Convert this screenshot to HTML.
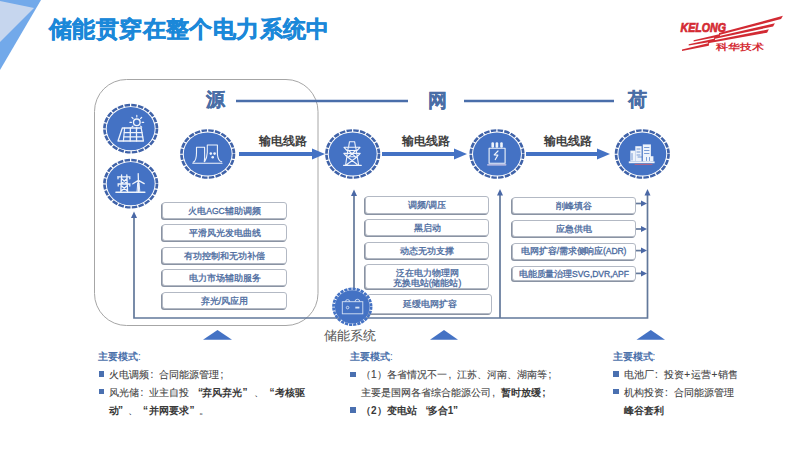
<!DOCTYPE html>
<html><head><meta charset="utf-8">
<style>
html,body{margin:0;padding:0;background:#fff;}
body{width:800px;height:450px;position:relative;overflow:hidden;font-family:"Liberation Sans",sans-serif;}
.a{position:absolute;white-space:nowrap;}
.title{font-size:23px;letter-spacing:0.4px;font-weight:bold;color:#1b88d9;-webkit-text-stroke:0.5px #1b88d9;}
.hd{font-size:19px;line-height:20px;font-weight:bold;color:#4a6ea6;-webkit-text-stroke:0.3px #4a6ea6;}
.lbl{font-size:12px;line-height:12px;font-weight:bold;color:#404040;}
.box{position:absolute;box-sizing:border-box;border:1px solid #b3b9c4;border-radius:3px;background:#fff;
  box-shadow:-1px 1px 0 #8a93a3;color:#4a6a9e;font-size:8.6px;-webkit-text-stroke:0.3px #4a6a9e;text-align:center;white-space:nowrap;}
.mt{font-size:10px;line-height:10px;font-weight:bold;color:#4a70aa;}
.tx{font-size:10px;line-height:10px;color:#424242;-webkit-text-stroke:0.1px #424242;}
.cl{display:inline-block;width:10px;text-indent:1.5px;}
.pl{display:inline-block;width:7.3px;text-align:center;}
.b{font-weight:bold;color:#383838;-webkit-text-stroke:0px #333;}
.sq{position:absolute;width:5.5px;height:5.5px;background:#4a70b0;}
</style></head>
<body>
<svg class="a" style="left:0;top:0" width="800" height="450" viewBox="0 0 800 450">
  <!-- top-left decoration -->
  <polygon points="0,0 41,0 0,70" fill="#72a9ea"/>
  <polygon points="0,1 34,8 0,42" fill="#c6d6ee"/>
  <!-- rounded rect -->
  <rect x="94.5" y="79.5" width="223.5" height="246" rx="32" ry="32" fill="none" stroke="#a6a6a6" stroke-width="1"/>
  <!-- top blue line -->
  <g stroke="#4a6eaa" stroke-width="2.6">
    <line x1="236" y1="101" x2="408" y2="101"/>
    <line x1="464" y1="101" x2="614" y2="101"/>
  </g>
  <!-- horizontal arrows -->
  <g fill="#4472c4">
    <rect x="239" y="152" width="74" height="4"/><polygon points="312,148.5 325,154 312,159.5"/>
    <rect x="382" y="152" width="73" height="4"/><polygon points="454,148.5 467,154 454,159.5"/>
    <rect x="526" y="152" width="72" height="4"/><polygon points="597,148.5 610,154 597,159.5"/>
  </g>
  <!-- bottom bus line and verticals -->
  <g stroke="#62789a" stroke-width="1.7" fill="none">
    <polyline points="134,215 134,318 647.5,318 647.5,192"/>
    <line x1="354" y1="193" x2="354" y2="290"/>
    <line x1="500" y1="192" x2="500" y2="318"/>
    <line x1="636" y1="203.5" x2="644" y2="203.5"/>
    <line x1="636" y1="229" x2="644" y2="229"/>
    <line x1="636" y1="250.6" x2="644" y2="250.6"/>
    <line x1="636" y1="273.4" x2="644" y2="273.4"/>
  </g>
  <g fill="#4a68a6">
    <polygon points="134,211.5 131,218 137,218"/>
    <polygon points="354,189.5 351,196 357,196"/>
    <polygon points="500,189 497,195.5 503,195.5"/>
    <polygon points="647.5,189 644.5,195.5 650.5,195.5"/>
    <polygon points="647,203.5 641,200.5 641,206.5"/>
    <polygon points="647,229 641,226 641,232"/>
    <polygon points="647,250.6 641,247.6 641,253.6"/>
    <polygon points="647,273.4 641,270.4 641,276.4"/>
  </g>
  <!-- triangles -->
  <g fill="#4472c4">
    <polygon points="217.5,330 203,339.7 232,339.7"/>
    <polygon points="444,330 430,339.7 458,339.7"/>
    <polygon points="650.8,330 636.5,339.7 665,339.7"/>
  </g>
  <!-- circles -->
  <defs>
    <g id="circ">
      <circle r="23.65" fill="none" stroke="#3f62a8" stroke-width="2.4" stroke-dasharray="5.0 1.18"/>
      <circle r="21.6" fill="#4472c4"/>
    </g>
  </defs>
  <use href="#circ" transform="translate(130.7,128.7) scale(1.11,1)"/>
  <use href="#circ" transform="translate(130.7,183.7) scale(1.11,1)"/>
  <use href="#circ" transform="translate(207.7,154) scale(1.11,1)"/>
  <use href="#circ" transform="translate(352.7,154) scale(1.11,1)"/>
  <use href="#circ" transform="translate(497,154) scale(1.11,1)"/>
  <use href="#circ" transform="translate(642.3,154) scale(1.11,1)"/>


  <!-- icons -->
  <g fill="none" stroke="#eef3fb" stroke-width="1.1" stroke-linejoin="round" stroke-linecap="round">
    <!-- solar -->
    <circle cx="136.8" cy="122.3" r="3.3" stroke-width="1.4"/>
    <path d="M136.8,117 v-1.6 M136.8,127.6 v1.6 M131.5,122.3 h-1.6 M142.1,122.3 h1.6 M133,118.5 l-1.1,-1.1 M140.6,118.5 l1.1,-1.1 M133,126.1 l-1.1,1.1 M140.6,126.1 l1.1,1.1" stroke-width="1.2"/>
    <polygon points="118,141 122.3,128 141.2,128 143.4,141" stroke-width="1.3"/>
    <line x1="124.6" y1="128" x2="123.4" y2="141" stroke-width="1.2"/>
    <line x1="124.3" y1="132.6" x2="142" y2="132.6" stroke-width="1.3"/>
    <line x1="124" y1="136.9" x2="142.7" y2="136.9" stroke-width="1.3"/>
    <line x1="130.4" y1="128" x2="130.2" y2="141" stroke-width="1.3"/>
    <line x1="136.4" y1="128" x2="136.6" y2="141" stroke-width="1.3"/>
    <!-- wind/grid -->
    <line x1="116" y1="192.3" x2="144.8" y2="192.3" stroke-width="1.6"/>
    <path d="M117.6,176.8 H130 M118,184 H130 M121.6,174.8 L120.8,192 M126.8,174.8 L127.6,192 M121.4,178.5 L127.2,183.8 M127.1,178.5 L121.3,183.8 M121,185.5 L127.5,191 M127.4,185.5 L121.1,191 M118,176.8 v2 M129.8,176.8 v2 M118.2,184 v2 M129.8,184 v2" stroke-width="1.3"/>
    <path d="M138.4,180.4 V192 M138.4,180.4 L138.2,173.6 M138.4,180.4 L144.2,183.6 M138.4,180.4 L132.8,183.8" stroke-width="1.3"/>
    <path d="M137,192 L137.7,183 M139.8,192 L139.1,183" stroke-width="1"/>
    <!-- nuclear -->
    <line x1="192.8" y1="163.3" x2="222" y2="163.3"/>
    <path d="M193.2,162.2 C196,161 196.5,156 196.5,152.4 V147.2 H204.6 V152 C204.6,155 205,158 204.3,161.5"/>
    <path d="M204.6,161.6 C207,158 207.2,155 207.3,152.5 V145 H217.4 V154.5 C217.8,158 219,161.3 221.7,161.8"/>
    <circle cx="210.8" cy="153.6" r="1.3" fill="#eef3fb" stroke="none"/>
    <circle cx="214.6" cy="153.6" r="1.3" fill="#eef3fb" stroke="none"/>
    <circle cx="212.7" cy="157.2" r="1.3" fill="#eef3fb" stroke="none"/>
    <!-- pylon -->
    <path d="M349.5,141.7 H354.6 L355.5,147 M349.5,141.7 L348.6,147 M344,147.3 H360 L357,150.5 H347 Z M343.8,153.4 H360.2 L357,156.8 H347 Z M348.3,147 L345.6,165 M355.7,147 L358.6,165 M343.6,165.4 H361.3 M348.6,150.5 L355.5,156.8 M355.6,150.5 L348.5,156.8 M347.5,157 L357.3,164.5 M357,157 L346.8,164.5"/>
    <!-- transformer -->
    <rect x="489.1" y="148.3" width="16" height="14.9"/>
    <path d="M498,151 L494.2,154.8 L497.8,155.2 L495.3,159.5" stroke-width="1.2"/>
    <line x1="487.7" y1="164.8" x2="505.8" y2="164.8" stroke="#d9d0ea" stroke-width="1.3"/>
    <rect x="491.4" y="142.3" width="2.6" height="5.4" rx="1.2" fill="#eef3fb" stroke="none"/>
    <rect x="495.6" y="142.3" width="2.6" height="5.4" rx="1.2" fill="#eef3fb" stroke="none"/>
    <rect x="500.2" y="142.3" width="2.6" height="5.4" rx="1.2" fill="#eef3fb" stroke="none"/>
    <!-- load -->
    <g fill="#eef3fb" stroke="none">
      <rect x="642.8" y="144.4" width="8.1" height="17"/>
      <rect x="635.3" y="146.2" width="6.3" height="15.2"/>
      <rect x="630.4" y="150.6" width="4.9" height="10.8"/>
      <rect x="644.7" y="156.2" width="8.7" height="5.2"/>
      <rect x="628.8" y="161.4" width="25.8" height="1.8"/>
    </g>
    <g stroke="#4472c4" stroke-width="0.7" fill="none">
      <path d="M644.5,147.5 H649 M644.5,150.5 H649 M644.5,153.5 H649 M637,149 H640 M637,152 H640 M637,155 H640 M632,153.5 V160 M646.5,157.5 V160.5 M649.5,157.5 V160.5 M638,157 H642"/>
    </g>
    <line x1="635" y1="164.4" x2="652" y2="164.4" stroke="#c8607a" stroke-width="0.9"/>
  </g>
  <!-- logo -->
  <g fill="#d22a33">
    <polygon points="693.6,40.30 720.2,33.90 719.8,36.50 693.6,41.50"/>
    <polygon points="688.7,44.30 715.2,38.60 714.8,41.20 688.7,45.50"/>
    <polygon points="682,49.50 709.2,42.90 708.8,45.70 682,50.90"/>
    <polygon points="719,33.10 782.9,15.80 781.1,19.00 719,34.90"/>
    <polygon points="714,37.30 774.9,23.30 773.1,26.50 714,39.10"/>
    <polygon points="708,41.50 768.9,29.30 767.1,32.70 708,43.30"/>
  </g>
  <text x="680.5" y="32.3" font-family="Liberation Sans" font-weight="bold" font-style="italic" font-size="12.4" fill="#d42a32" stroke="#d42a32" stroke-width="0.7" textLength="45.5" lengthAdjust="spacingAndGlyphs">KELONG</text>
  <text x="716" y="50" font-family="Liberation Sans" font-weight="bold" font-size="8.6" fill="#d42a32" textLength="47.5" lengthAdjust="spacingAndGlyphs">科华技术</text>
</svg>

<div class="a title" style="left:49px;top:18px;line-height:23px">储能贯穿在整个电力系统中</div>
<div class="a hd" style="left:206px;top:90px">源</div>
<div class="a hd" style="left:428px;top:91px">网</div>
<div class="a hd" style="left:628px;top:90px">荷</div>
<div class="a lbl" style="left:259px;top:135px">输电线路</div>
<div class="a lbl" style="left:402px;top:135px">输电线路</div>
<div class="a lbl" style="left:544px;top:135px">输电线路</div>

<!-- left boxes -->
<div class="box" style="left:162px;top:201.5px;width:125px;height:17px;line-height:16px">火电AGC辅助调频</div>
<div class="box" style="left:162px;top:223.5px;width:125px;height:17px;line-height:16px">平滑风光发电曲线</div>
<div class="box" style="left:162px;top:247px;width:125px;height:17px;line-height:16px">有功控制和无功补偿</div>
<div class="box" style="left:162px;top:269px;width:125px;height:17px;line-height:16px">电力市场辅助服务</div>
<div class="box" style="left:162px;top:292px;width:125px;height:17px;line-height:16px">弃光/风应用</div>

<!-- middle boxes -->
<div class="box" style="left:365px;top:196px;width:124px;height:17.5px;line-height:17.5px">调频/调压</div>
<div class="box" style="left:365px;top:219px;width:124px;height:17px;line-height:16px">黑启动</div>
<div class="box" style="left:365px;top:242px;width:124px;height:17px;line-height:16px">动态无功支撑</div>
<div class="box" style="left:365px;top:264px;width:124px;height:25px;line-height:10.5px;padding-top:2.5px">泛在电力物理网<br>充换电站(储能站)</div>
<div class="box" style="left:367px;top:294px;width:125px;height:19.5px;line-height:18.5px">延缓电网扩容</div>

<!-- right boxes -->
<div class="box" style="left:511.5px;top:197px;width:124.5px;height:17px;line-height:16px">削峰填谷</div>
<div class="box" style="left:511.5px;top:220px;width:124.5px;height:17px;line-height:16px">应急供电</div>
<div class="box" style="left:511.5px;top:243px;width:124.5px;height:16.5px;line-height:15.5px;letter-spacing:-0.15px">电网扩容/需求侧响应(ADR)</div>
<div class="box" style="left:511.5px;top:265.5px;width:124.5px;height:15.5px;line-height:14.5px;letter-spacing:-0.1px">电能质量治理SVG,DVR,APF</div>

<svg class="a" style="left:0;top:0" width="800" height="450" viewBox="0 0 800 450">
  <g transform="translate(352.3,306.8) scale(1.05,1)">
    <circle r="17.9" fill="none" stroke="#4472c4" stroke-width="2.6" stroke-dasharray="3.1 0.9"/>
    <circle r="16.6" fill="#4472c4"/>
  </g>
  <g fill="none" stroke="#d5e1f4" stroke-width="0.9">
    <rect x="342.3" y="301.7" width="20.5" height="12.1"/>
    <path d="M345.5,301.7 A2.1,2.1 0 0 1 349.7,301.7 M355,301.7 A2.4,2.4 0 0 1 359.8,301.7"/>
    <circle cx="347.6" cy="307.6" r="1.3"/>
    <line x1="355.3" y1="307.6" x2="359.4" y2="307.6" stroke-width="1.8"/>
  </g>
</svg>
<div class="a" style="left:324px;top:329px;font-size:13.2px;line-height:14px;color:#555">储能系统</div>

<!-- bottom text left -->
<div class="a mt" style="left:98px;top:352px">主要模式<span style="font-weight:normal">:</span></div>
<div class="sq" style="left:98.5px;top:371.3px"></div>
<div class="a tx" style="left:109px;top:370px">火电调频<span class="cl">:</span>合同能源管理<span class="cl">;</span></div>
<div class="sq" style="left:98.5px;top:388.5px"></div>
<div class="a tx" style="left:109px;top:387.5px">风光储<span class="cl">:</span>业主自投</div>
<div class="a tx b" style="left:198px;top:387.5px">“</div>
<div class="a tx b" style="left:202px;top:387.5px">弃风弃光</div>
<div class="a tx b" style="left:242.5px;top:387.5px">”</div>
<div class="a tx" style="left:254px;top:387.5px">、</div>
<div class="a tx b" style="left:269.5px;top:387.5px">“</div>
<div class="a tx b" style="left:274.5px;top:387.5px">考核驱</div>
<div class="a tx b" style="left:108.5px;top:405.5px">动</div>
<div class="a tx b" style="left:118px;top:405.5px">”</div>
<div class="a tx" style="left:127.5px;top:405.5px">、</div>
<div class="a tx b" style="left:143px;top:405.5px">“</div>
<div class="a tx b" style="left:149px;top:405.5px">并网要求</div>
<div class="a tx b" style="left:189.5px;top:405.5px">”</div>
<div class="a tx" style="left:198.5px;top:405.5px">。</div>

<!-- bottom text middle -->
<div class="a mt" style="left:350px;top:352px">主要模式<span style="font-weight:normal">:</span></div>
<div class="sq" style="left:350.3px;top:371.5px"></div>
<div class="a tx" style="left:361px;top:370px">（1）</div>
<div class="a tx" style="left:387px;top:370px">各省情况不一<span class="cl">,</span>江苏、河南、湖南等<span class="cl">;</span></div>
<div class="a tx" style="left:360.8px;top:387.5px">主要是国网各省综合能源公司<span class="cl">,</span><span class="b">暂时放缓<span class="cl">;</span></span></div>
<div class="sq" style="left:350.3px;top:407px"></div>
<div class="a tx b" style="left:361px;top:405.5px">（2）</div>
<div class="a tx b" style="left:387px;top:405.5px">变电站</div>
<div class="a tx b" style="left:425.5px;top:405.5px">“</div>
<div class="a tx b" style="left:427.8px;top:405.5px">多合1</div>
<div class="a tx b" style="left:453px;top:405.5px">”</div>

<!-- bottom text right -->
<div class="a mt" style="left:612.5px;top:352px">主要模式<span style="font-weight:normal">:</span></div>
<div class="sq" style="left:613px;top:371px"></div>
<div class="a tx" style="left:623.5px;top:370px">电池厂<span class="cl">:</span>投资<span class="pl">+</span>运营<span class="pl">+</span>销售</div>
<div class="sq" style="left:613px;top:388.5px"></div>
<div class="a tx" style="left:623.5px;top:387.5px">机构投资<span class="cl">:</span>合同能源管理</div>
<div class="a tx b" style="left:624px;top:405.5px">峰谷套利</div>

</body></html>
